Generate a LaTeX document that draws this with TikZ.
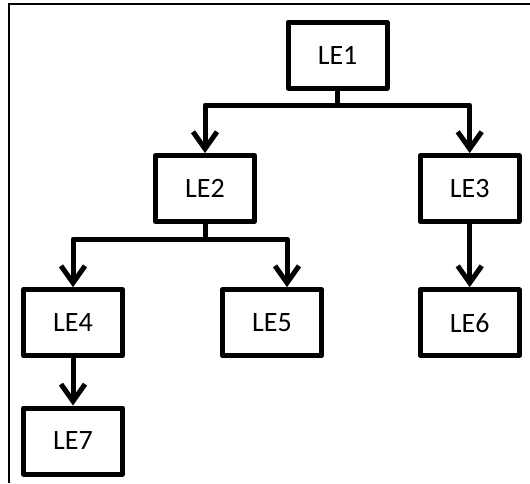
\documentclass[tikz,border=0pt]{standalone}
\usepackage{fontspec}
\setmainfont{Carlito}
\usetikzlibrary{arrows.meta}
\begin{document}
\begin{tikzpicture}[x=1pt,y=-1pt,
  box/.style={draw=black,line width=5pt,minimum width=98.8pt,minimum height=66pt,inner sep=0pt,font=\fontsize{28}{30}\selectfont,line join=round},
  conn/.style={draw=black,line width=5pt,line join=round},
  arr/.style={conn,-{Straight Barb[length=17pt,width=24pt,line width=5pt]}}]
\useasboundingbox (0,0) rectangle (530,483);
\draw[line width=2.7pt] (9,483) -- (9,4) -- (530,4);
\node[box] (le1) at (337.6,55) {LE1};
\node[box] (le2) at (205,188.6) {LE2};
\node[box] (le3) at (469.7,188.6) {LE3};
\node[box] (le4) at (73,322.7) {LE4};
\node[box] (le5) at (272,322.7) {LE5};
\node[box] (le6) at (469.7,322.7) {LE6};
\node[box] (le7) at (73,441) {LE7};
\coordinate (j1) at (337.6,105);
\coordinate (j2) at (205,239);
\draw[conn] (le1.south) -- (j1);
\draw[arr] (j1) -| (le2.north);
\draw[arr] (j1) -| (le3.north);
\draw[conn] (le2.south) -- (j2);
\draw[arr] (j2) -| (le4.north);
\draw[arr] (j2) -| ([xshift=15pt]le5.north);
\draw[arr] (le3.south) -- (le6.north);
\draw[arr] (le4.south) -- (le7.north);
\end{tikzpicture}
\end{document}
